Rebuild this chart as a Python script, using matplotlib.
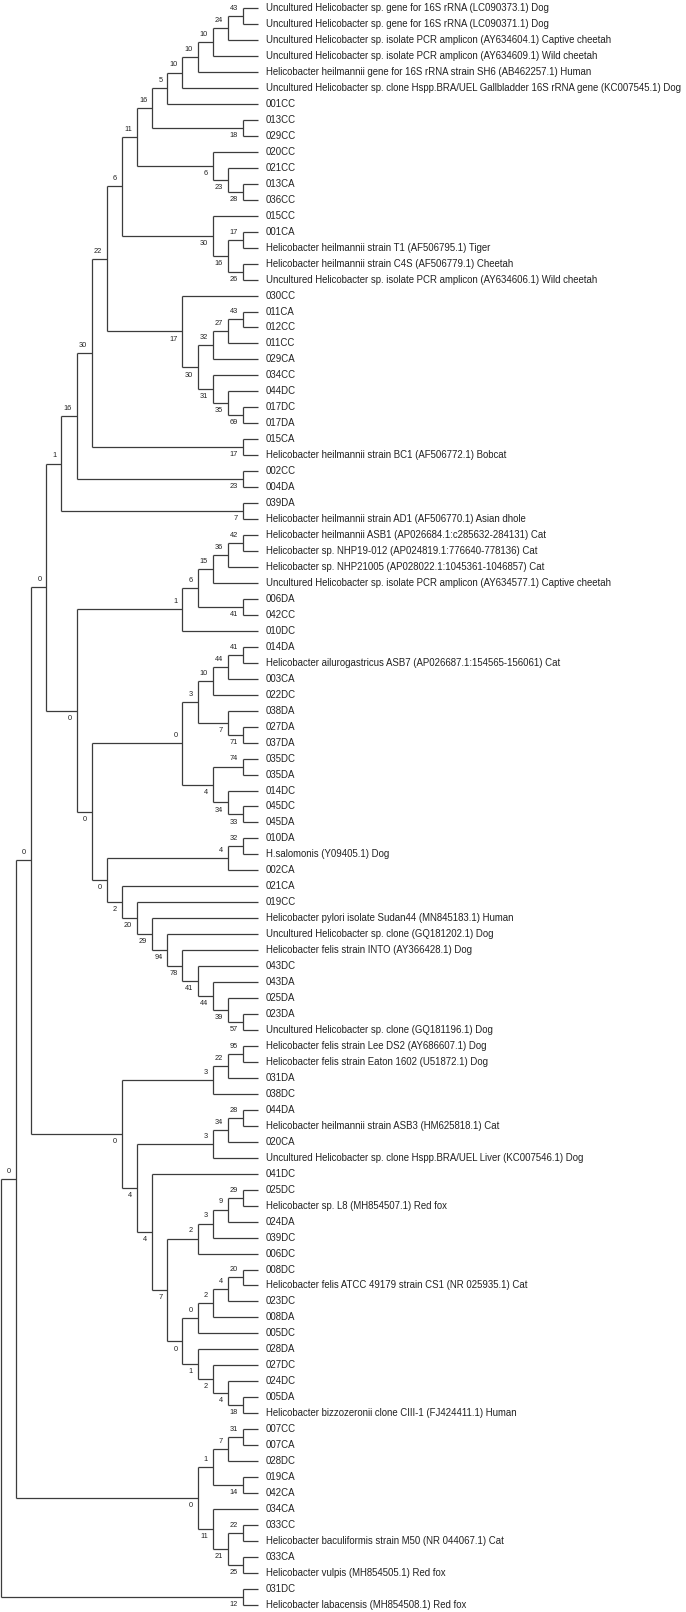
import matplotlib
matplotlib.use('Agg')
import matplotlib.pyplot as plt

# taxa in the order they appear top to bottom
taxa = [
    "Uncultured Helicobacter sp. gene for 16S rRNA (LC090373.1) Dog",
    "Uncultured Helicobacter sp. gene for 16S rRNA (LC090371.1) Dog",
    "Uncultured Helicobacter sp. isolate PCR amplicon (AY634604.1) Captive cheetah",
    "Uncultured Helicobacter sp. isolate PCR amplicon (AY634609.1) Wild cheetah",
    "Helicobacter heilmannii gene for 16S rRNA strain SH6 (AB462257.1) Human",
    "Uncultured Helicobacter sp. clone Hspp.BRA/UEL Gallbladder 16S rRNA gene (KC007545.1) Dog",
    "001CC", "013CC", "029CC", "020CC", "021CC", "013CA", "036CC", "015CC", "001CA",
    "Helicobacter heilmannii strain T1 (AF506795.1) Tiger",
    "Helicobacter heilmannii strain C4S (AF506779.1) Cheetah",
    "Uncultured Helicobacter sp. isolate PCR amplicon (AY634606.1) Wild cheetah",
    "030CC", "011CA", "012CC", "011CC", "029CA", "034CC", "044DC", "017DC", "017DA", "015CA",
    "Helicobacter heilmannii strain BC1 (AF506772.1) Bobcat",
    "002CC", "004DA", "039DA",
    "Helicobacter heilmannii strain AD1 (AF506770.1) Asian dhole",
    "Helicobacter heilmannii ASB1 (AP026684.1:c285632-284131) Cat",
    "Helicobacter sp. NHP19-012 (AP024819.1:776640-778136) Cat",
    "Helicobacter sp. NHP21005 (AP028022.1:1045361-1046857) Cat",
    "Uncultured Helicobacter sp. isolate PCR amplicon (AY634577.1) Captive cheetah",
    "006DA", "042CC", "010DC", "014DA",
    "Helicobacter ailurogastricus ASB7 (AP026687.1:154565-156061) Cat",
    "003CA", "022DC", "038DA", "027DA", "037DA", "035DC", "035DA", "014DC", "045DC", "045DA",
    "010DA", "H.salomonis (Y09405.1) Dog", "002CA", "021CA", "019CC",
    "Helicobacter pylori isolate Sudan44 (MN845183.1) Human",
    "Uncultured Helicobacter sp. clone (GQ181202.1) Dog",
    "Helicobacter felis strain INTO (AY366428.1) Dog",
    "043DC", "043DA", "025DA", "023DA",
    "Uncultured Helicobacter sp. clone (GQ181196.1) Dog",
    "Helicobacter felis strain Lee DS2 (AY686607.1) Dog",
    "Helicobacter felis strain Eaton 1602 (U51872.1) Dog",
    "031DA", "038DC", "044DA",
    "Helicobacter heilmannii strain ASB3 (HM625818.1) Cat",
    "020CA",
    "Uncultured Helicobacter sp. clone Hspp.BRA/UEL Liver (KC007546.1) Dog",
    "041DC", "025DC", "Helicobacter sp. L8 (MH854507.1) Red fox",
    "024DA", "039DC", "006DC", "008DC",
    "Helicobacter felis ATCC 49179 strain CS1 (NR 025935.1) Cat",
    "023DC", "008DA", "005DC", "028DA", "027DC", "024DC", "005DA",
    "Helicobacter bizzozeronii clone CIII-1 (FJ424411.1) Human",
    "007CC", "007CA", "028DC", "019CA", "042CA", "034CA", "033CC",
    "Helicobacter baculiformis strain M50 (NR 044067.1) Cat",
    "033CA", "Helicobacter vulpis (MH854505.1) Red fox",
    "031DC", "Helicobacter labacensis (MH854508.1) Red fox",
]


def N(support, *children):
    return {'support': support, 'children': children}


# topology with bootstrap values, leaves are indexes into taxa
top = N(6,
        N(11,
          N(16,
            N(5, N(10, N(10, N(10, N(24, N(43, 0, 1), 2), 3), 4), 5), 6),
            N(18, 7, 8)),
          N(6, 9, N(23, 10, N(28, 11, 12)))),
        N(30, 13, N(16, N(17, 14, 15), N(26, 16, 17))))
top = N(22, top,
        N(17, 18, N(30, N(32, N(27, N(43, 19, 20), 21), 22),
                    N(31, 23, N(35, 24, N(69, 25, 26))))))
top = N(1, N(16, N(30, top, N(17, 27, 28)), N(23, 29, 30)), N(7, 31, 32))

middle_a = N(1, N(6, N(15, N(36, N(42, 33, 34), 35), 36), N(41, 37, 38)), 39)
middle_b = N(0,
             N(3, N(10, N(44, N(41, 40, 41), 42), 43), N(7, 44, N(71, 45, 46))),
             N(4, N(74, 47, 48), N(34, 49, N(33, 50, 51))))
felis_chain = N(57, 63, 64)
for s, leaf in [(39, 62), (44, 61), (41, 60), (78, 59), (94, 58), (29, 57), (20, 56), (2, 55)]:
    felis_chain = N(s, leaf, felis_chain)
middle_c = N(0, N(4, N(32, 52, 53), 54), felis_chain)
middle = N(0, top, N(0, middle_a, N(0, middle_b, middle_c)))

lower = N(0,
          N(3, N(22, N(95, 65, 66), 67), 68),
          N(4,
            N(3, N(34, N(28, 69, 70), 71), 72),
            N(4, 73,
              N(7,
                N(2, N(3, N(9, N(29, 74, 75), 76), 77), 78),
                N(0,
                  N(0, N(2, N(4, N(20, 79, 80), 81), 82), 83),
                  N(1, 84, N(2, 85, N(4, 86, N(18, 87, 88)))))))))

bottom = N(0,
           N(1, N(7, N(31, 89, 90), 91), N(14, 92, 93)),
           N(11, 94, N(21, N(22, 95, 96), N(25, 97, 98))))

tree = N(None, N(0, N(0, middle, lower), bottom), N(12, 99, 100))


def layout(node):
    # returns (height, y) ; cladogram, all tips line up
    if isinstance(node, int):
        return 0, float(node)
    res = [layout(c) for c in node['children']]
    node['h'] = max(r[0] for r in res) + 1
    node['ys'] = [r[1] for r in res]
    node['hs'] = [r[0] for r in res]
    node['y'] = (res[0][1] + res[-1][1]) / 2
    return node['h'], node['y']


def draw(ax, node, H):
    x = H - node['h']
    ax.vlines(x, node['ys'][0], node['ys'][-1], color=line_color, lw=0.9)
    for i, child in enumerate(node['children']):
        cx = H - node['hs'][i]
        cy = node['ys'][i]
        ax.hlines(cy, x, cx, color=line_color, lw=0.9)
        if isinstance(child, int):
            continue
        if child['support'] is not None:
            dy = 5.5 if i == 0 else -5.5
            ax.annotate(str(child['support']), (cx, cy), xytext=(-3.5, dy),
                        textcoords='offset points', ha='right', va='center',
                        fontsize=5.3, color=text_color)
        draw(ax, child, H)


line_color = '#3c3c3c'
text_color = '#222222'
plt.rcParams['font.family'] = ['Liberation Sans', 'DejaVu Sans']

H, _ = layout(tree)

fig = plt.figure(figsize=(6.86, 16.12), dpi=100)
ax = fig.add_axes([0, 0, 1, 1])
draw(ax, tree, H)
for i, name in enumerate(taxa):
    ax.annotate(name, (H, i), xytext=(5.5, 0), textcoords='offset points',
                ha='left', va='center', fontsize=6.9, color=text_color)

unit = 257 / H
ax.set_xlim(-1 / unit, 685 / unit)
ax.set_ylim(100.45, -0.51)
ax.axis('off')
fig.savefig('out.png', dpi=100)
